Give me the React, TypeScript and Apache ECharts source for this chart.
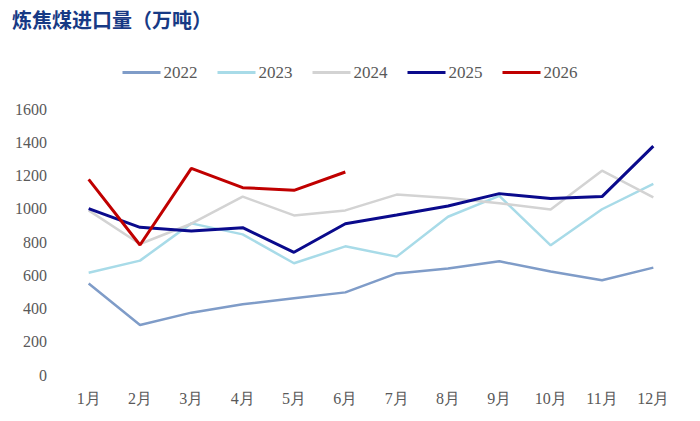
import React, { useEffect, useRef } from "react";
import * as echarts from "echarts";

const months = ["1月", "2月", "3月", "4月", "5月", "6月", "7月", "8月", "9月", "10月", "11月", "12月"];
const years = ["2022", "2023", "2024", "2025", "2026"];
const s2022 = [550, 301, 375, 425, 461, 497, 611, 640, 684, 622, 570, 646];
const s2023 = [615, 688, 912, 846, 672, 774, 712, 952, 1077, 780, 997, 1149];
const s2024 = [990, 788, 910, 1073, 960, 990, 1085, 1065, 1033, 995, 1229, 1069];
const s2025 = [1001, 888, 866, 886, 738, 910, 962, 1017, 1091, 1061, 1073, 1377];
const s2026 = [1177, 782, 1243, 1127, 1111, 1221];
const yTicks = [0, 200, 400, 600, 800, 1000, 1200, 1400, 1600];

const colors = ["#7f9cc8", "#a8dbe8", "#d3d3d3", "#0a0a8c", "#c00000"];
const widths = [2.5, 2.5, 2.5, 3, 3];
const seriesData = [s2022, s2023, s2024, s2025, s2026];

const serif = "'Liberation Serif', 'DejaVu Serif', serif";

export default function App() {
  const ref = useRef<HTMLDivElement>(null);
  useEffect(() => {
    if (!ref.current) return;
    const chart = echarts.init(ref.current, null, { renderer: "svg" });
    chart.setOption({
      animation: false,
      backgroundColor: "#ffffff",
      textStyle: { fontFamily: serif },
      title: {
        text: "炼焦煤进口量（万吨）",
        left: 7,
        top: 4,
        textStyle: {
          fontFamily: "Noto Sans CJK SC",
          fontWeight: "bold",
          fontSize: 20,
          color: "#173a85",
        },
      },
      legend: {
        data: years,
        top: 59,
        left: "center",
        itemWidth: 38,
        itemHeight: 3,
        itemGap: 20,
        icon: "rect",
        textStyle: { fontFamily: serif, fontSize: 17, color: "#595959", padding: [0, 0, 0, -2] },
      },
      grid: { left: 63, right: 21, top: 109, bottom: 46 },
      xAxis: {
        type: "category",
        data: months,
        boundaryGap: true,
        axisLine: { show: false },
        axisTick: { show: false },
        axisLabel: { fontFamily: serif, fontSize: 16, color: "#595959", margin: 15 },
      },
      yAxis: {
        type: "value",
        min: yTicks[0],
        max: yTicks[yTicks.length - 1],
        interval: 200,
        splitLine: { show: false },
        axisLine: { show: false },
        axisTick: { show: false },
        axisLabel: {
          fontFamily: serif,
          fontSize: 16,
          color: "#595959",
          margin: 16,
          formatter: (v: number) => String(v),
        },
      },
      series: years.map((y, i) => ({
        name: y,
        type: "line",
        data: seriesData[i],
        symbol: "none",
        color: colors[i],
        lineStyle: { width: widths[i], color: colors[i] },
        z: 2 + i,
      })),
    });
    return () => chart.dispose();
  }, []);
  return <div ref={ref} style={{ position: "fixed", left: 0, top: 0, width: 700, height: 421 }} />;
}
